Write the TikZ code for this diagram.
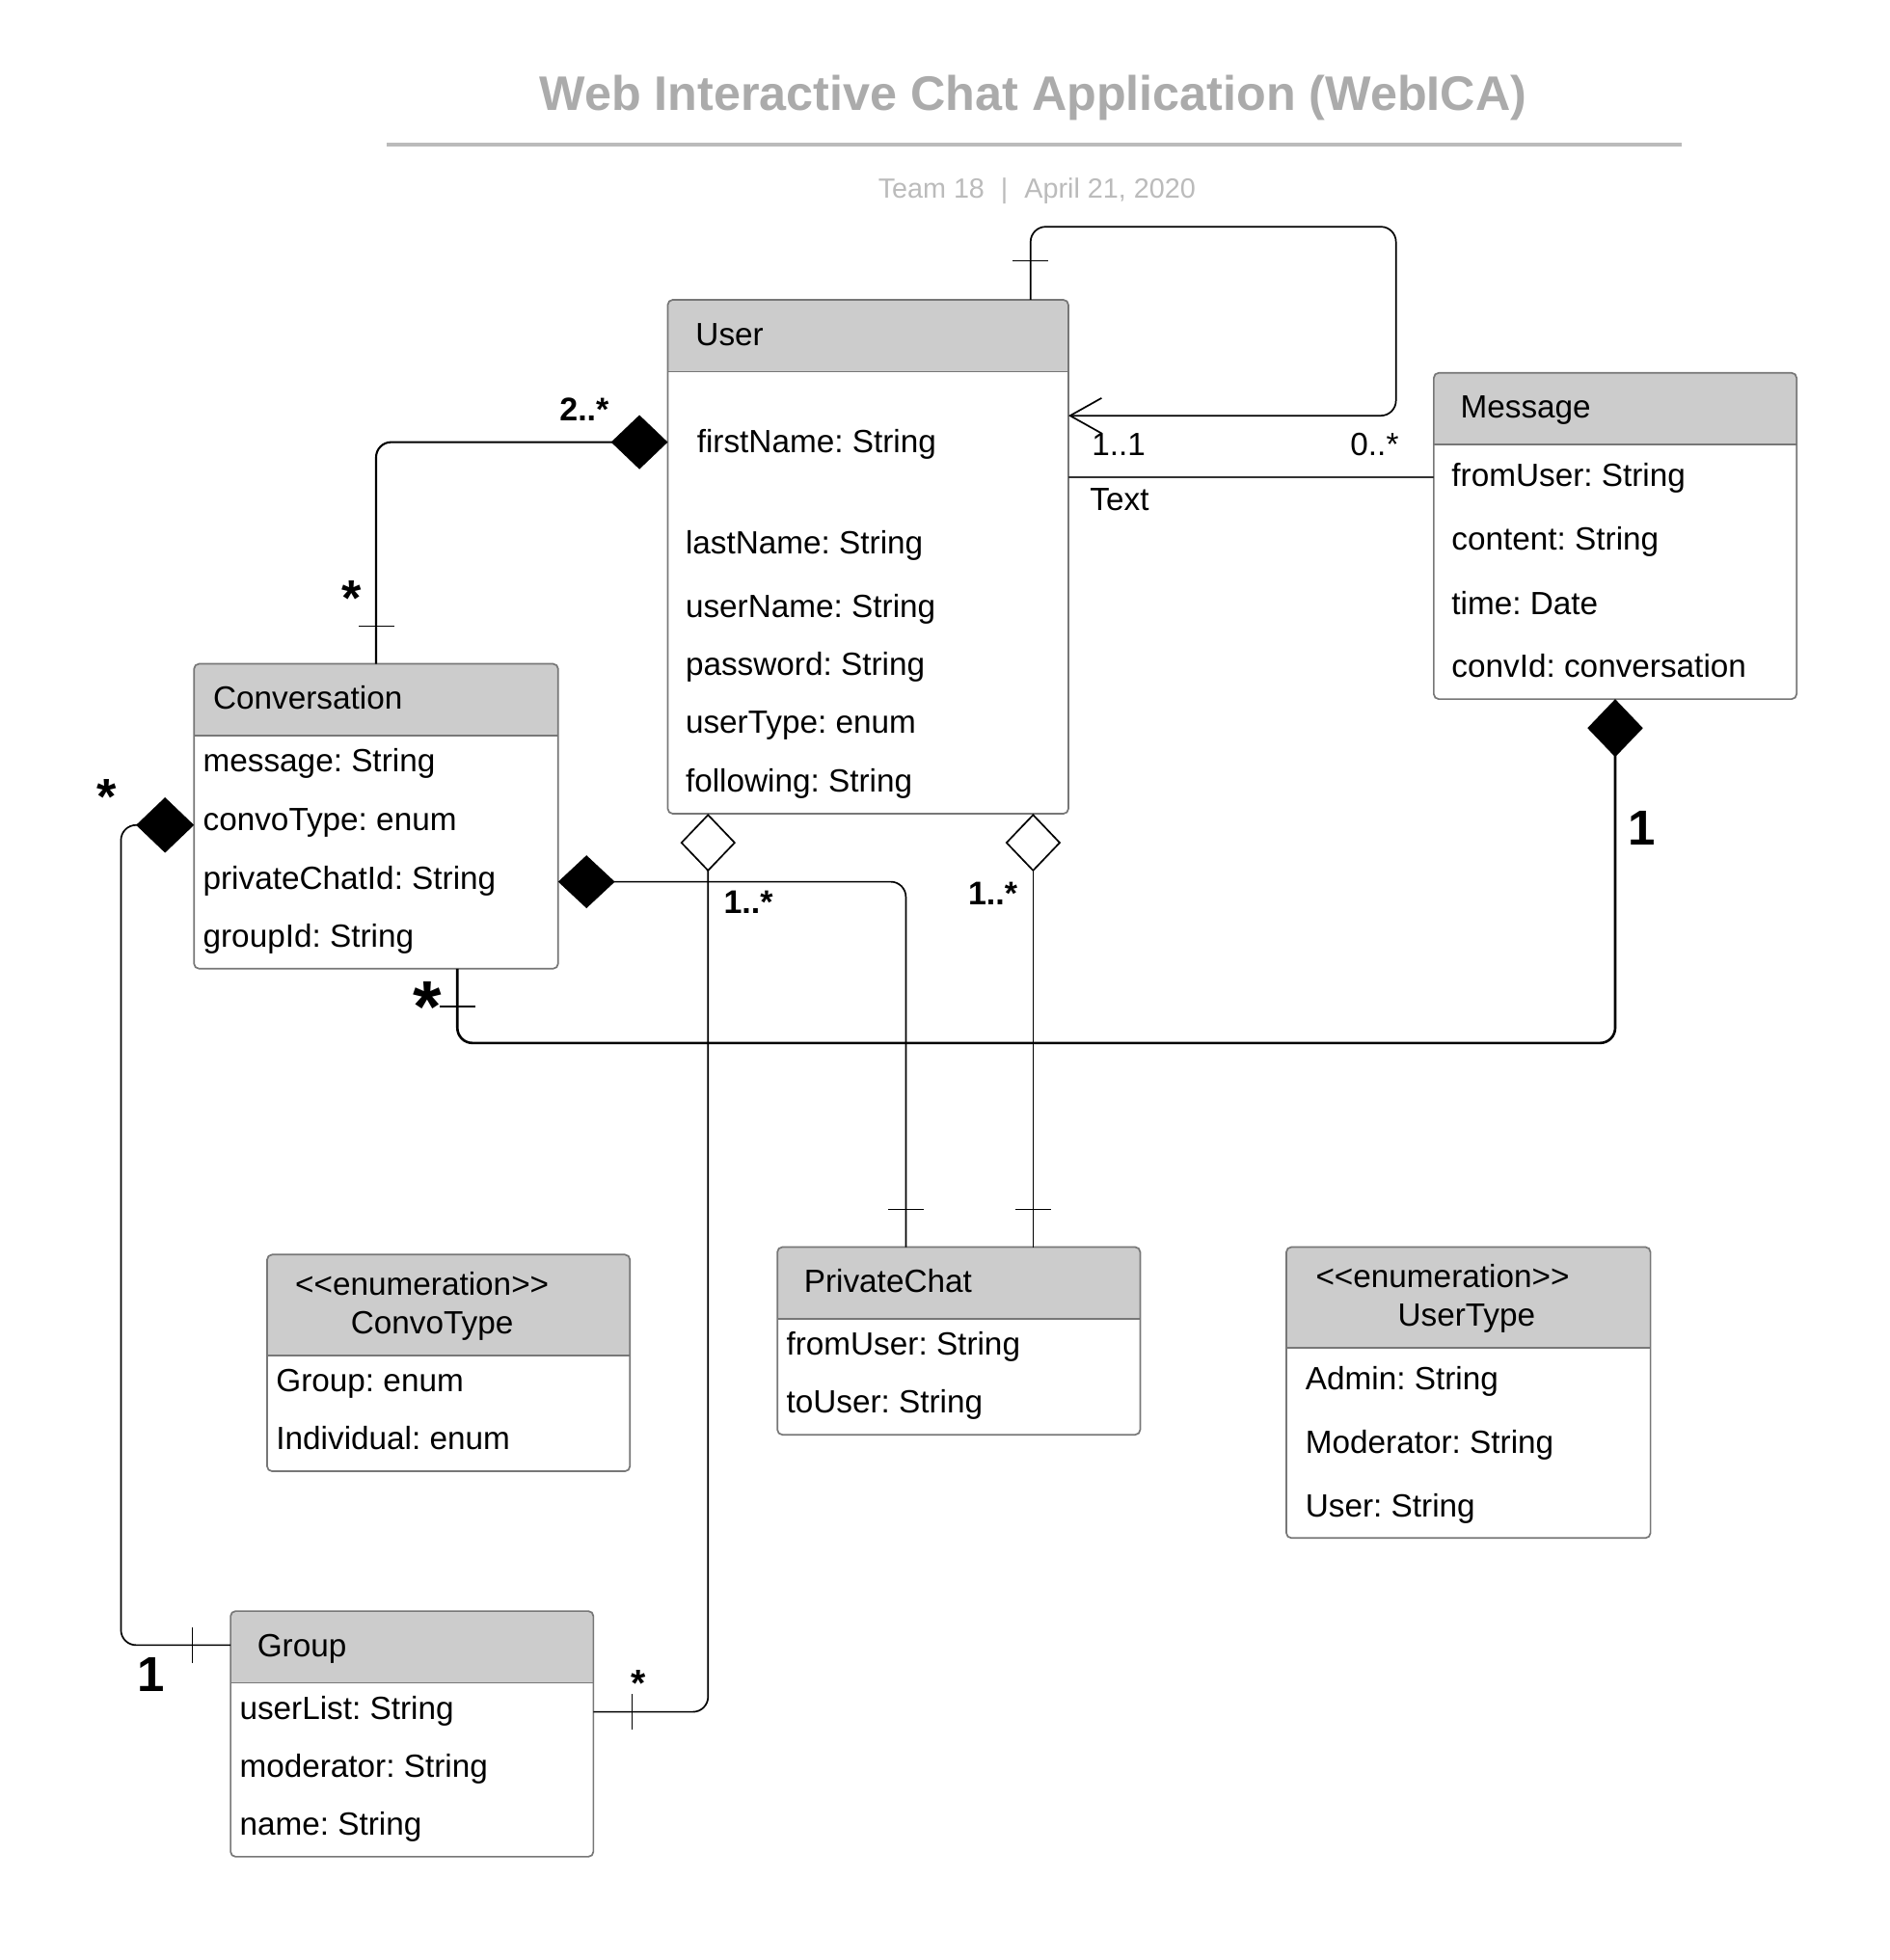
\documentclass[tikz,border=0pt]{standalone}
\usepackage{fontspec}
\setmainfont{Liberation Sans}
\usetikzlibrary{arrows.meta,calc,shapes.geometric}
\definecolor{hdrgray}{HTML}{CCCCCC}
\definecolor{boxgray}{HTML}{777777}
\definecolor{darkline}{HTML}{333333}
\definecolor{titlegray}{HTML}{ABABAB}
\definecolor{subgray}{HTML}{BBBBBB}
\newcommand{\enumtag}{\mbox{<}\mbox{<}enumeration\mbox{>}\mbox{>}}
\tikzset{
  boxnode/.style={draw=boxgray, line width=1.3pt, rounded corners=4pt, inner sep=0pt, outer sep=0pt},
  attr/.style={anchor=base west, inner sep=0pt, font=\fontsize{25.5}{30}\selectfont},
  ctr/.style={anchor=base, inner sep=0pt, font=\fontsize{25.5}{30}\selectfont},
  conn/.style={line width=1.3pt, rounded corners=12pt},
  tickmark/.style={line width=0.9pt},
  blab/.style={anchor=base, inner sep=0pt, font=\bfseries\fontsize{26}{30}\selectfont},
  star/.style={anchor=north, inner sep=0pt, font=\bfseries\fontsize{#1}{#1}\selectfont},
}
\newcommand{\umlbox}[6]{%
  \pgfmathsetmacro\bw{#4-#2}\pgfmathsetmacro\bh{#5-#3}%
  \pgfmathsetmacro\bx{(#2+#4)/2}\pgfmathsetmacro\by{(#3+#5)/2}%
  \fill[white, rounded corners=4pt] (#2,#3) rectangle (#4,#5);
  \fill[hdrgray, rounded corners=4pt] (#2,#3) rectangle (#4,#6);
  \fill[hdrgray] (#2,#6-6) rectangle (#4,#6);
  \draw[boxgray, line width=1.3pt] (#2,#6) -- (#4,#6);
  \node[boxnode, minimum width=\bw pt, minimum height=\bh pt] (#1) at (\bx,\by) {};
}
\begin{document}
\frenchspacing
\begin{tikzpicture}[x=1pt,y=-1pt]
\fill[white] (0,0) rectangle (1500,1556);
\useasboundingbox (0,0) rectangle (1500,1556);

% title
\node[anchor=base, inner sep=0pt, text=titlegray, font=\bfseries\fontsize{38.5}{46}\selectfont] (title) at (820,88) {Web Interactive Chat Application (WebICA)};
\draw[subgray, line width=3pt] (307,115) -- (1335,115);
\node[anchor=base, inner sep=0pt, text=subgray, font=\fontsize{22}{26}\selectfont] (subtitle) at (823,157) {Team 18\hspace{13pt}|\hspace{13pt}April 21, 2020};

% boxes
\umlbox{user}{530}{238}{848}{646}{295}
\umlbox{msg}{1138}{296}{1426}{555}{353}
\umlbox{conv}{154}{527}{443}{769}{584}
\umlbox{ctype}{212}{996}{500}{1168}{1076}
\umlbox{pchat}{617}{990}{905}{1139}{1047}
\umlbox{utype}{1021}{990}{1310}{1221}{1070}
\umlbox{grp}{183}{1279}{471}{1474}{1336}

% User
\node[attr] (user-h) at (552,274) {User};
\node[attr] (user-a1) at (553,359) {firstName: String};
\node[attr] (user-a2) at (544,440) {lastName: String};
\node[attr] (user-a3) at (544,490) {userName: String};
\node[attr] (user-a4) at (544,536) {password: String};
\node[attr] (user-a5) at (544,582) {userType: enum};
\node[attr] (user-a6) at (544,629) {following: String};
% Message
\node[attr] (msg-h) at (1159,332) {Message};
\node[attr] (msg-a1) at (1152,386) {fromUser: String};
\node[attr] (msg-a2) at (1152,437) {content: String};
\node[attr] (msg-a3) at (1152,488) {time: Date};
\node[attr] (msg-a4) at (1152,538) {convId: conversation};
% Conversation
\node[attr] (conv-h) at (169,563) {Conversation};
\node[attr] (conv-a1) at (161,613) {message: String};
\node[attr] (conv-a2) at (161,659) {convoType: enum};
\node[attr] (conv-a3) at (161,706) {privateChatId: String};
\node[attr] (conv-a4) at (161,752) {groupId: String};
% ConvoType
\node[ctr] (ctype-h1) at (335,1028) {\enumtag};
\node[ctr] (ctype-h2) at (343,1059) {ConvoType};
\node[attr] (ctype-a1) at (219,1105) {Group: enum};
\node[attr] (ctype-a2) at (219,1151) {Individual: enum};
% PrivateChat
\node[attr] (pchat-h) at (638,1026) {PrivateChat};
\node[attr] (pchat-a1) at (624,1076) {fromUser: String};
\node[attr] (pchat-a2) at (624,1122) {toUser: String};
% UserType
\node[ctr] (utype-h1) at (1145,1022) {\enumtag};
\node[ctr] (utype-h2) at (1164,1053) {UserType};
\node[attr] (utype-a1) at (1036,1103) {Admin: String};
\node[attr] (utype-a2) at (1036,1154) {Moderator: String};
\node[attr] (utype-a3) at (1036,1204) {User: String};
% Group
\node[attr] (grp-h) at (204,1315) {Group};
\node[attr] (grp-a1) at (190,1365) {userList: String};
\node[attr] (grp-a2) at (190,1411) {moderator: String};
\node[attr] (grp-a3) at (190,1457) {name: String};

% self association on User
\draw[conn, -{Straight Barb[length=25pt,width=28pt]}] (user.north -| 818,0) |- (1108,180) |- (user.east |- 0,330);
\draw[tickmark] (804,207) -- (832,207);

% User - Message
\draw[line width=1.3pt, darkline] (user.east |- 0,379) -- (msg.west |- 0,379);
\node[ctr] (m11) at (888,362) {1..1};
\node[ctr] (m0s) at (1091,362) {0..*};
\node[attr] (mtext) at (865,405) {Text};

% Conversation - User (composition)
\draw[conn, line width=1.6pt, -{Diamond[length=45pt,width=43pt]}] (conv.north) |- (user.west |- 0,351);
\draw[tickmark] (285,497) -- (313,497);
\node[blab, anchor=base west] (l2s) at (444,334) {2..*};
\node[star=40] (lcs) at (279,461) {*};

% Conversation - Group (composition)
\draw[conn, {Diamond[length=46pt,width=44pt]}-] (conv.west |- 0,655) -| (96,1306) -- (grp.west |- 0,1306);
\draw[tickmark] (153,1292) -- (153,1320);
\node[star=40] (lls) at (85,619) {*};
\node[blab, font=\bfseries\fontsize{39}{44}\selectfont] (lg1) at (120,1343) {1};

% User - Group (aggregation)
\draw[conn, {Diamond[open,fill=white,length=46pt,width=44pt]}-] (user.south -| 562,0) |- (grp.east |- 0,1359);
\draw[tickmark] (502,1345) -- (502,1373);
\node[star=30] (lgs) at (507,1326) {*};
\node[blab] (lu1) at (594,725) {1..*};

% User - PrivateChat (aggregation)
\draw[conn, {Diamond[open,fill=white,length=46pt,width=44pt]}-] (user.south -| 820,0) -- (pchat.north -| 820,0);
\draw[tickmark] (806,960) -- (834,960);
\node[blab] (lu2) at (788,718) {1..*};

% Conversation - PrivateChat (composition)
\draw[conn, {Diamond[length=45pt,width=42pt]}-] (conv.east |- 0,700) -| (pchat.north -| 719,0);
\draw[tickmark] (705,960) -- (733,960);

% Message - Conversation (composition)
\draw[conn, line width=2pt, {Diamond[length=46pt,width=44pt]}-] (msg.south) |- (363,828) -- (conv.south -| 363,0);
\draw[tickmark] (349,799) -- (377,799);
\node[blab, font=\bfseries\fontsize{39}{44}\selectfont] (lm1) at (1303,671) {1};
\node[star=58] (lms) at (339,779) {*};
\end{tikzpicture}
\end{document}
